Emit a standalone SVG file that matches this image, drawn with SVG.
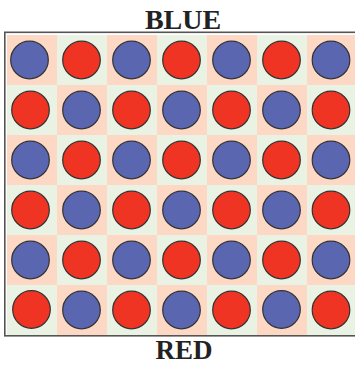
<svg xmlns="http://www.w3.org/2000/svg" width="355" height="366" viewBox="0 0 355 366">
<defs>
<style>
.pe{fill:#FDD8C4}
.gr{fill:#EAF2E3}
.b{fill:#5B66B0;stroke:#333;stroke-width:1.2}
.r{fill:#EF3424;stroke:#333;stroke-width:1.2}
.lbl{font-family:"Liberation Serif",serif;font-weight:bold;font-size:27px;fill:#222;text-anchor:middle}
</style>
</defs>
<rect width="355" height="366" fill="#fff"/>
<g id="board">
<rect x="4.8" y="32.3" width="360" height="303.5" fill="#fff" stroke="#555" stroke-width="1.6"/>
<g id="cells">
<rect class="pe" x="7" y="35" width="50" height="50"/><rect class="gr" x="57" y="35" width="50" height="50"/><rect class="pe" x="107" y="35" width="50" height="50"/><rect class="gr" x="157" y="35" width="50" height="50"/><rect class="pe" x="207" y="35" width="50" height="50"/><rect class="gr" x="257" y="35" width="50" height="50"/><rect class="pe" x="307" y="35" width="50" height="50"/>
<rect class="gr" x="7" y="85" width="50" height="50"/><rect class="pe" x="57" y="85" width="50" height="50"/><rect class="gr" x="107" y="85" width="50" height="50"/><rect class="pe" x="157" y="85" width="50" height="50"/><rect class="gr" x="207" y="85" width="50" height="50"/><rect class="pe" x="257" y="85" width="50" height="50"/><rect class="gr" x="307" y="85" width="50" height="50"/>
<rect class="pe" x="7" y="135" width="50" height="50"/><rect class="gr" x="57" y="135" width="50" height="50"/><rect class="pe" x="107" y="135" width="50" height="50"/><rect class="gr" x="157" y="135" width="50" height="50"/><rect class="pe" x="207" y="135" width="50" height="50"/><rect class="gr" x="257" y="135" width="50" height="50"/><rect class="pe" x="307" y="135" width="50" height="50"/>
<rect class="gr" x="7" y="185" width="50" height="50"/><rect class="pe" x="57" y="185" width="50" height="50"/><rect class="gr" x="107" y="185" width="50" height="50"/><rect class="pe" x="157" y="185" width="50" height="50"/><rect class="gr" x="207" y="185" width="50" height="50"/><rect class="pe" x="257" y="185" width="50" height="50"/><rect class="gr" x="307" y="185" width="50" height="50"/>
<rect class="pe" x="7" y="235" width="50" height="50"/><rect class="gr" x="57" y="235" width="50" height="50"/><rect class="pe" x="107" y="235" width="50" height="50"/><rect class="gr" x="157" y="235" width="50" height="50"/><rect class="pe" x="207" y="235" width="50" height="50"/><rect class="gr" x="257" y="235" width="50" height="50"/><rect class="pe" x="307" y="235" width="50" height="50"/>
<rect class="gr" x="7" y="285" width="50" height="50"/><rect class="pe" x="57" y="285" width="50" height="50"/><rect class="gr" x="107" y="285" width="50" height="50"/><rect class="pe" x="157" y="285" width="50" height="50"/><rect class="gr" x="207" y="285" width="50" height="50"/><rect class="pe" x="257" y="285" width="50" height="50"/><rect class="gr" x="307" y="285" width="50" height="50"/>
</g>
<g id="discs">
<circle class="b" cx="29.5" cy="60" r="18.8"/><circle class="r" cx="81.5" cy="60" r="18.8"/><circle class="b" cx="131.5" cy="60" r="18.8"/><circle class="r" cx="181.5" cy="60" r="18.8"/><circle class="b" cx="231.5" cy="60" r="18.8"/><circle class="r" cx="281.5" cy="60" r="18.8"/><circle class="b" cx="331" cy="60" r="18.8"/>
<circle class="r" cx="30.5" cy="110" r="18.8"/><circle class="b" cx="81.5" cy="110" r="18.8"/><circle class="r" cx="131.5" cy="110" r="18.8"/><circle class="b" cx="181.5" cy="110" r="18.8"/><circle class="r" cx="231.5" cy="110" r="18.8"/><circle class="b" cx="281.5" cy="110" r="18.8"/><circle class="r" cx="331" cy="110" r="18.8"/>
<circle class="b" cx="30.5" cy="160" r="18.8"/><circle class="r" cx="81.5" cy="160" r="18.8"/><circle class="b" cx="131.5" cy="160" r="18.8"/><circle class="r" cx="181.5" cy="160" r="18.8"/><circle class="b" cx="231.5" cy="160" r="18.8"/><circle class="r" cx="281.5" cy="160" r="18.8"/><circle class="b" cx="331" cy="160" r="18.8"/>
<circle class="r" cx="30.5" cy="210" r="18.8"/><circle class="b" cx="81.5" cy="210" r="18.8"/><circle class="r" cx="131.5" cy="210" r="18.8"/><circle class="b" cx="181.5" cy="210" r="18.8"/><circle class="r" cx="231.5" cy="210" r="18.8"/><circle class="b" cx="281.5" cy="210" r="18.8"/><circle class="r" cx="331" cy="210" r="18.8"/>
<circle class="b" cx="30.5" cy="260" r="18.8"/><circle class="r" cx="81.5" cy="260" r="18.8"/><circle class="b" cx="131.5" cy="260" r="18.8"/><circle class="r" cx="181.5" cy="260" r="18.8"/><circle class="b" cx="231.5" cy="260" r="18.8"/><circle class="r" cx="281.5" cy="260" r="18.8"/><circle class="b" cx="331" cy="260" r="18.8"/>
<circle class="r" cx="31.5" cy="309.5" r="18.8"/><circle class="b" cx="81.5" cy="310" r="18.8"/><circle class="r" cx="131.5" cy="310" r="18.8"/><circle class="b" cx="181.5" cy="310" r="18.8"/><circle class="r" cx="231.5" cy="310" r="18.8"/><circle class="b" cx="281.5" cy="309.5" r="18.8"/><circle class="r" cx="331" cy="310" r="18.8"/>
</g>
</g>
<g id="labels">
<text class="lbl" x="183" y="29" style="font-size:28px">BLUE</text>
<text class="lbl" x="184" y="359">RED</text>
</g>
</svg>
